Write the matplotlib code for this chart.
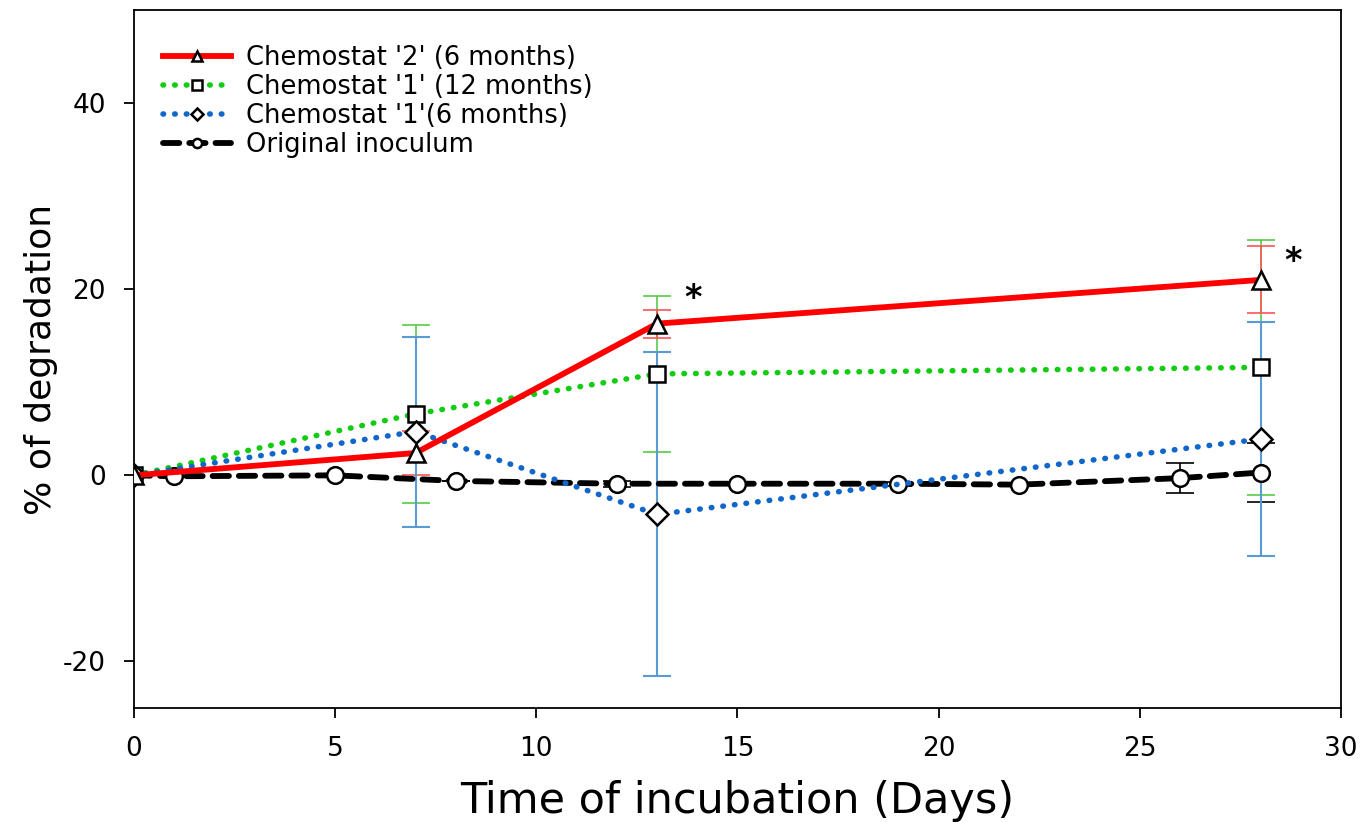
import numpy as np
import matplotlib.pyplot as plt

plt.rcParams['axes.unicode_minus'] = False

# data
days_chem = [0, 7, 13, 28]
chem2_6m = [0, 2.4, 16.3, 21.0]
chem2_6m_err = [0, 2.4, 1.5, 3.6]
chem1_12m = [0, 6.6, 10.9, 11.6]
chem1_12m_err = [0, 9.6, 8.4, 13.7]
chem1_6m = [0, 4.7, -4.2, 3.9]
chem1_6m_err = [0, 10.2, 17.4, 12.6]

days_orig = [0, 1, 5, 8, 12, 15, 19, 22, 26, 28]
orig = [0, -0.1, 0.0, -0.6, -0.9, -0.9, -0.9, -1.0, -0.3, 0.3]
orig_err = [0, 0, 0, 0, 0.3, 0, 0.2, 0, 1.6, 3.2]

star_x = [13.9, 28.8]
star_y = [19.0, 23.0]

labels = ["Chemostat '2' (6 months)", "Chemostat '1' (12 months)",
          "Chemostat '1'(6 months)", "Original inoculum"]

fig = plt.figure(figsize=(13.66, 8.22), dpi=100)
ax = fig.add_axes([0.098, 0.1387, 0.8837, 0.8491])

# error bars first (thin, light colours)
ax.errorbar(days_orig, orig, yerr=orig_err, fmt='none', ecolor='black', elinewidth=1.2, capsize=10, capthick=1.2, zorder=2)
ax.errorbar(days_chem, chem1_12m, yerr=chem1_12m_err, fmt='none', ecolor='#55cc44', elinewidth=1.2, capsize=10, capthick=1.2, zorder=2)
ax.errorbar(days_chem, chem2_6m, yerr=chem2_6m_err, fmt='none', ecolor='#ff5555', elinewidth=1.2, capsize=10, capthick=1.2, zorder=2)
ax.errorbar(days_chem, chem1_6m, yerr=chem1_6m_err, fmt='none', ecolor='#5b9bd5', elinewidth=1.5, capsize=10, capthick=1.5, zorder=2)

mk = dict(markerfacecolor='white', markeredgecolor='black', markeredgewidth=1.8)
ax.plot(days_chem, chem2_6m, color='#ff0000', lw=4.2, marker='^', ms=13, label=labels[0], zorder=6, **mk)
ax.plot(days_chem, chem1_12m, color='#11cc11', lw=4, ls=(0, (0.1, 2.0)), dash_capstyle='round', marker='s', ms=12, label=labels[1], zorder=5, **mk)
ax.plot(days_chem, chem1_6m, color='#1166cc', lw=4, ls=(0, (0.1, 2.0)), dash_capstyle='round', marker='D', ms=11, label=labels[2], zorder=5, **mk)
ax.plot(days_orig, orig, color='black', lw=4.2, ls=(0, (2.8, 1.7)), dash_capstyle='round', marker='o', ms=12, label=labels[3], zorder=4, **mk)

for sx, sy in zip(star_x, star_y):
    ax.text(sx, sy, '*', fontsize=24, fontweight='bold', ha='center', va='center')

ax.set_xlim(0, 30)
ax.set_ylim(-25, 50)
ax.set_xticks([0, 5, 10, 15, 20, 25, 30])
ax.set_yticks([-20, 0, 20, 40])
ax.tick_params(direction='out', length=7, width=1.3, labelsize=19, pad=13)
for s in ax.spines.values():
    s.set_linewidth(1.3)

ax.set_xlabel('Time of incubation (Days)', fontsize=31, labelpad=13)
ax.set_ylabel('% of degradation', fontsize=26, labelpad=4)

leg = ax.legend(loc='upper left', bbox_to_anchor=(-0.005, 1.0), frameon=False, fontsize=18.5,
                handlelength=2.65, handletextpad=0.6, markerscale=0.55, labelspacing=0.12,
                numpoints=1, borderaxespad=0.95)

fig.savefig('out.png', dpi=100)
